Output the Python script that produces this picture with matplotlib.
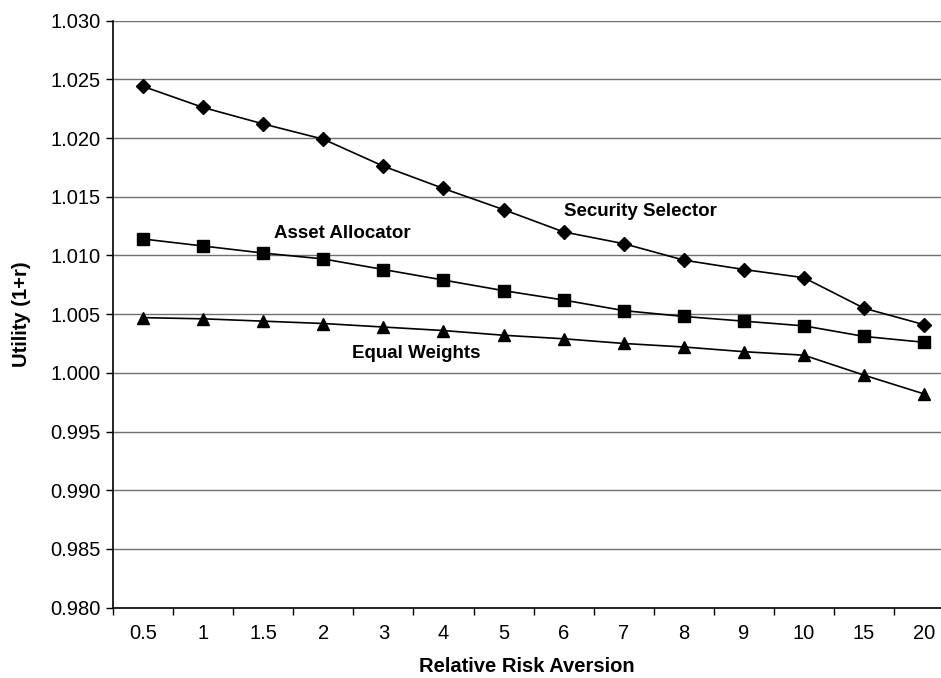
import matplotlib.pyplot as plt
import numpy as np

plt.rcParams['font.family'] = ['Liberation Sans', 'DejaVu Sans']

# relative risk aversion categories (evenly spaced on the axis)
risk_aversion = ['0.5', '1', '1.5', '2', '3', '4', '5', '6', '7', '8', '9', '10', '15', '20']

security_selector = [1.0244, 1.0226, 1.0212, 1.0199, 1.0176, 1.0157, 1.0139,
                     1.0120, 1.0110, 1.0096, 1.0088, 1.0081, 1.0055, 1.0041]
asset_allocator = [1.0114, 1.0108, 1.0102, 1.0097, 1.0088, 1.0079, 1.0070,
                   1.0062, 1.0053, 1.0048, 1.0044, 1.0040, 1.0031, 1.0026]
equal_weights = [1.0047, 1.0046, 1.0044, 1.0042, 1.0039, 1.0036, 1.0032,
                 1.0029, 1.0025, 1.0022, 1.0018, 1.0015, 0.9998, 0.9982]

y_ticks = np.arange(0.980, 1.0301, 0.005)

fig = plt.figure(figsize=(9.41, 6.78), dpi=100)
ax = fig.add_axes([0.1201, 0.1038, 0.8799, 0.8658])

x = np.arange(len(risk_aversion))
ax.plot(x, security_selector, color='black', lw=1.2, marker='D', ms=7)
ax.plot(x, asset_allocator, color='black', lw=1.2, marker='s', ms=8)
ax.plot(x, equal_weights, color='black', lw=1.2, marker='^', ms=8)

ax.text(8.27, 1.0137, 'Security Selector', ha='center', va='center', fontsize=13.5, fontweight='bold')
ax.text(3.32, 1.0119, 'Asset Allocator', ha='center', va='center', fontsize=13.5, fontweight='bold')
ax.text(4.55, 1.00166, 'Equal Weights', ha='center', va='center', fontsize=13.5, fontweight='bold')

ax.set_xlim(-0.5, 13.28)
ax.set_ylim(0.980, 1.030)
ax.set_yticks(y_ticks)
ax.set_yticklabels(['%.3f' % v for v in y_ticks])
ax.set_xticks(x)
ax.set_xticklabels(risk_aversion)
ax.set_xticks(np.arange(-0.5, 13.5, 1), minor=True)
ax.tick_params(axis='x', which='major', length=0, pad=12, labelsize=14.5)
ax.tick_params(axis='x', which='minor', length=5, width=1, direction='out')
ax.tick_params(axis='y', length=5, width=1, labelsize=14.5, pad=4)

ax.grid(axis='y', color='#707070', lw=1)
ax.set_axisbelow(True)
for side in ['top', 'right']:
    ax.spines[side].set_visible(False)
for side in ['left', 'bottom']:
    ax.spines[side].set_linewidth(1.2)

ax.set_xlabel('Relative Risk Aversion', fontsize=14.5, fontweight='bold', labelpad=10)
ax.set_ylabel('Utility (1+r)', fontsize=14.5, fontweight='bold', labelpad=14)

fig.savefig('out.png', dpi=100)
